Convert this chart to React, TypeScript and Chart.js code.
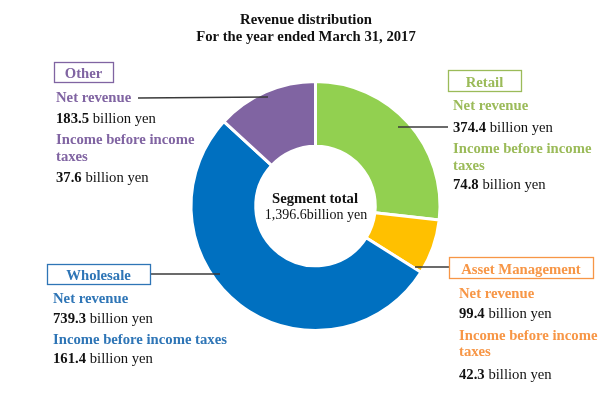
import React, { useEffect, useRef } from "react";
import { Chart, registerables } from "chart.js";

Chart.register(...registerables);

const segments = ["Retail", "Asset Management", "Wholesale", "Other"];
const netRevenue = [374.4, 99.4, 739.3, 183.5];
const incomeBeforeTaxes = [74.8, 42.3, 161.4, 37.6];
const segmentTotal = "1,396.6";
const titleLines = ["Revenue distribution", "For the year ended March 31, 2017"];

const sliceColors = ["#92d050", "#ffc000", "#0070c0", "#8064a2"];
const textColors = ["#9bbb59", "#f79646", "#2e75b6", "#8064a2"];

const SERIF = '"Liberation Serif", "Times New Roman", serif';
const FS = 14.7;

type Part = { t: string; b: boolean; c: string };

function drawParts(ctx: CanvasRenderingContext2D, parts: Part[], x: number, y: number, size: number, align: "left" | "center" = "left") {
  let total = 0;
  parts.forEach((p) => {
    ctx.font = `${p.b ? "bold " : ""}${size}px ${SERIF}`;
    total += ctx.measureText(p.t).width;
  });
  let cx = align === "center" ? x - total / 2 : x;
  parts.forEach((p) => {
    ctx.font = `${p.b ? "bold " : ""}${size}px ${SERIF}`;
    ctx.fillStyle = p.c;
    ctx.textAlign = "left";
    ctx.textBaseline = "alphabetic";
    ctx.fillText(p.t, cx, y);
    cx += ctx.measureText(p.t).width;
  });
}

// layout of each label block (index matches segments)
const layouts = [
  { box: [448, 70, 73, 21], tx: 453, lines: [110, 132, 153, 170, 189], split: true, lead: [[398, 127], [448, 127]] },
  { box: [449, 257, 144, 21], tx: 459, lines: [298, 318, 340, 356, 379], split: true, lead: [[415, 267], [449, 267]] },
  { box: [47, 264, 103, 20], tx: 53, lines: [303, 323, 344, 0, 363], split: false, lead: [[150, 274], [220, 274]] },
  { box: [54, 62, 59, 20], tx: 56, lines: [102, 123, 144, 161, 182], split: true, lead: [[138, 98], [268, 97]] },
];

const labelsPlugin = {
  id: "labelsPlugin",
  afterDraw(chart: any) {
    const ctx: CanvasRenderingContext2D = chart.ctx;
    ctx.save();
    // title
    drawParts(ctx, [{ t: titleLines[0], b: true, c: "#111" }], 306, 24, FS, "center");
    drawParts(ctx, [{ t: titleLines[1], b: true, c: "#111" }], 306, 41, FS, "center");
    // center
    drawParts(ctx, [{ t: "Segment total", b: true, c: "#111" }], 315, 203, FS, "center");
    drawParts(ctx, [{ t: segmentTotal + "billion yen", b: false, c: "#111" }], 316, 219, 14, "center");

    segments.forEach((name, i) => {
      const L = layouts[i];
      const col = textColors[i];
      // leader
      ctx.strokeStyle = "#3a3a3a";
      ctx.lineWidth = 1.3;
      ctx.beginPath();
      ctx.moveTo(L.lead[0][0], L.lead[0][1]);
      ctx.lineTo(L.lead[1][0], L.lead[1][1]);
      ctx.stroke();
      // box
      const [bx, by, bw, bh] = L.box;
      ctx.strokeStyle = col;
      ctx.lineWidth = 1.3;
      ctx.fillStyle = "#fff";
      ctx.fillRect(bx, by, bw, bh);
      ctx.strokeRect(bx + 0.5, by + 0.5, bw, bh);
      drawParts(ctx, [{ t: name, b: true, c: col }], bx + bw / 2, by + bh - 4.5, FS, "center");
      // texts
      drawParts(ctx, [{ t: "Net revenue", b: true, c: col }], L.tx, L.lines[0], FS);
      drawParts(ctx, [{ t: netRevenue[i].toFixed(1), b: true, c: "#111" }, { t: " billion yen", b: false, c: "#111" }], L.tx, L.lines[1], FS);
      if (L.split) {
        drawParts(ctx, [{ t: "Income before income", b: true, c: col }], L.tx, L.lines[2], FS);
        drawParts(ctx, [{ t: "taxes", b: true, c: col }], L.tx, L.lines[3], FS);
      } else {
        drawParts(ctx, [{ t: "Income before income taxes", b: true, c: col }], L.tx, L.lines[2], FS);
      }
      drawParts(ctx, [{ t: incomeBeforeTaxes[i].toFixed(1), b: true, c: "#111" }, { t: " billion yen", b: false, c: "#111" }], L.tx, L.lines[4], FS);
    });
    ctx.restore();
  },
};

export default function App() {
  const ref = useRef<HTMLCanvasElement>(null);
  useEffect(() => {
    if (!ref.current) return;
    const chart = new Chart(ref.current, {
      type: "doughnut",
      data: {
        labels: segments,
        datasets: [
          {
            data: netRevenue,
            backgroundColor: sliceColors,
            borderColor: "#ffffff",
            borderWidth: 3,
            hoverOffset: 0,
          },
        ],
      },
      options: {
        responsive: false,
        animation: false,
        devicePixelRatio: 1,
        cutout: "48%",
        layout: { padding: { left: 189, right: 170, top: 80, bottom: 83 } },
        plugins: { legend: { display: false }, tooltip: { enabled: false }, title: { display: false } },
        events: [],
      },
      plugins: [labelsPlugin],
    });
    return () => chart.destroy();
  }, []);
  return (
    <div style={{ position: "fixed", left: 0, top: 0, width: 612, height: 415, background: "#fff" }}>
      <canvas ref={ref} width={612} height={415} style={{ width: 612, height: 415 }} />
    </div>
  );
}
